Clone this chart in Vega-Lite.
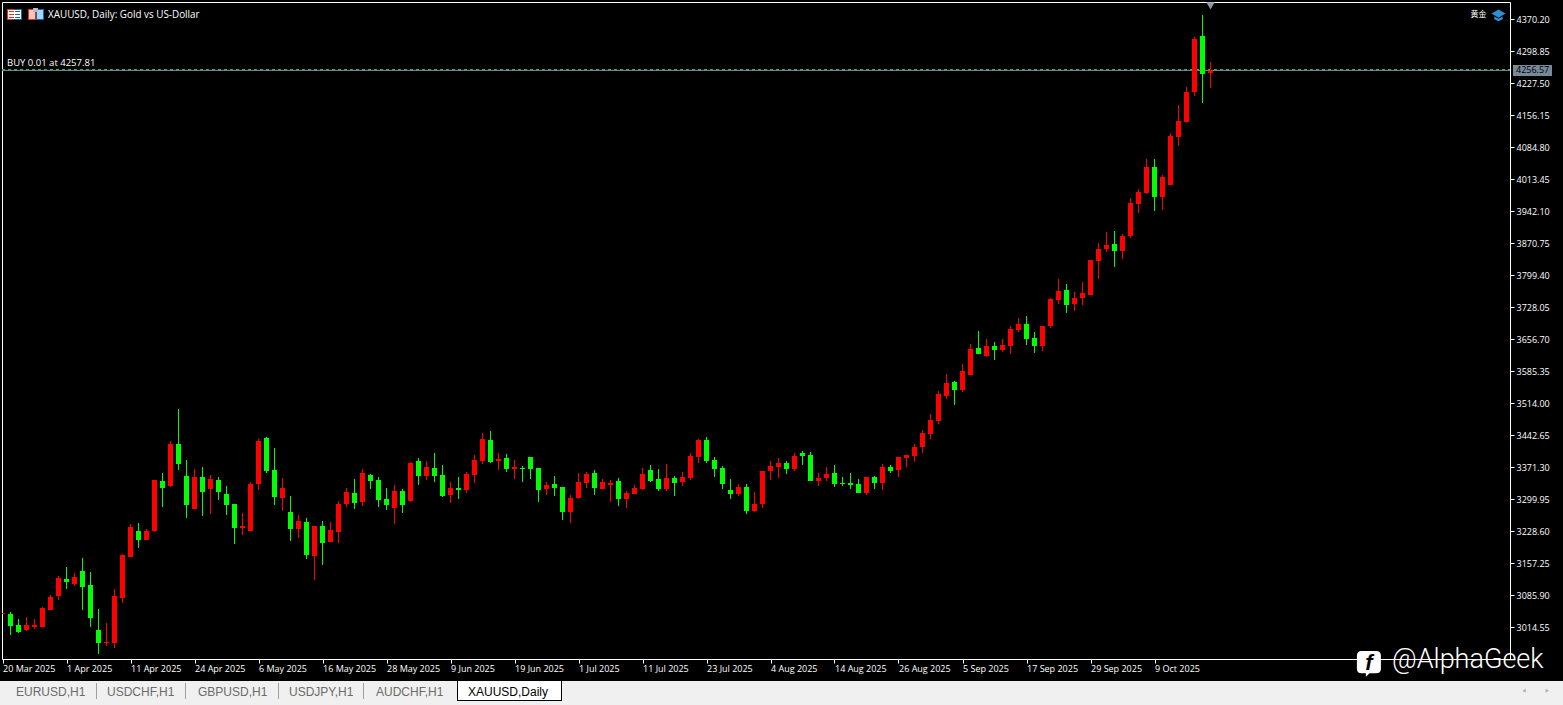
{"$schema":"https://vega.github.io/schema/vega-lite/v6.json","width":1508,"height":657,"autosize":{"type":"none"},"padding":{"left":2,"top":2,"right":53,"bottom":46},"background":"#000000","config":{"view":{"stroke":"#ffffff","strokeWidth":1,"fill":"#000000"}},
"datasets":{"candles":[
{"i":-1,"o":3044.6,"h":3046.9,"l":3044.6,"c":3046.9},
{"i":0,"o":3044.6,"h":3049.1,"l":2997.8,"c":3017.9},{"i":1,"o":3020.1,"h":3033.5,"l":3002.3,"c":3004.5},{"i":2,"o":3009.0,"h":3038.0,"l":3006.7,"c":3020.1},{"i":3,"o":3015.7,"h":3033.5,"l":3011.2,"c":3020.1},{"i":4,"o":3015.7,"h":3060.3,"l":3015.7,"c":3058.0},{"i":5,"o":3053.6,"h":3087.0,"l":3053.6,"c":3082.6},{"i":6,"o":3084.8,"h":3129.4,"l":3075.9,"c":3124.9},{"i":7,"o":3122.7,"h":3149.4,"l":3100.4,"c":3116.0},{"i":8,"o":3111.5,"h":3136.1,"l":3107.1,"c":3127.1},{"i":9,"o":3140.5,"h":3169.5,"l":3053.6,"c":3104.9},
{"i":10,"o":3109.3,"h":3138.3,"l":3015.7,"c":3035.7},{"i":11,"o":3009.0,"h":3055.8,"l":2955.5,"c":2980.0},{"i":12,"o":2980.0,"h":3024.6,"l":2973.3,"c":2982.2},{"i":13,"o":2980.0,"h":3100.4,"l":2968.8,"c":3084.8},{"i":14,"o":3080.3,"h":3178.4,"l":3069.2,"c":3176.2},{"i":15,"o":3171.7,"h":3245.3,"l":3171.7,"c":3238.6},{"i":16,"o":3229.7,"h":3247.5,"l":3191.8,"c":3209.6},{"i":17,"o":3209.6,"h":3234.2,"l":3209.6,"c":3229.7},{"i":18,"o":3229.7,"h":3343.4,"l":3227.5,"c":3343.4},{"i":19,"o":3341.2,"h":3359.0,"l":3283.2,"c":3325.6},
{"i":20,"o":3330.0,"h":3430.4,"l":3327.8,"c":3423.7},{"i":21,"o":3423.7,"h":3501.7,"l":3365.7,"c":3379.1},{"i":22,"o":3352.3,"h":3388.0,"l":3258.7,"c":3287.7},{"i":23,"o":3278.8,"h":3368.0,"l":3278.8,"c":3350.1},{"i":24,"o":3350.1,"h":3372.4,"l":3263.2,"c":3316.7},{"i":25,"o":3323.4,"h":3354.6,"l":3267.6,"c":3345.7},{"i":26,"o":3343.4,"h":3350.1,"l":3298.8,"c":3316.7},{"i":27,"o":3312.2,"h":3330.0,"l":3265.4,"c":3287.7},{"i":28,"o":3289.9,"h":3289.9,"l":3200.7,"c":3236.4},{"i":29,"o":3236.4,"h":3269.8,"l":3220.8,"c":3240.9},
{"i":30,"o":3229.7,"h":3339.0,"l":3229.7,"c":3334.5},{"i":31,"o":3334.5,"h":3434.8,"l":3321.1,"c":3430.4},{"i":32,"o":3437.1,"h":3439.3,"l":3359.0,"c":3363.5},{"i":33,"o":3365.7,"h":3414.8,"l":3287.7,"c":3305.5},{"i":34,"o":3303.3,"h":3347.9,"l":3274.3,"c":3325.6},{"i":35,"o":3272.1,"h":3307.7,"l":3207.4,"c":3234.2},{"i":36,"o":3234.2,"h":3265.4,"l":3214.1,"c":3252.0},{"i":37,"o":3249.8,"h":3258.7,"l":3167.3,"c":3176.2},{"i":38,"o":3174.0,"h":3240.9,"l":3120.5,"c":3240.9},{"i":39,"o":3240.9,"h":3252.0,"l":3153.9,"c":3203.0},
{"i":40,"o":3205.2,"h":3249.8,"l":3205.2,"c":3231.9},{"i":41,"o":3227.5,"h":3296.6,"l":3202.9,"c":3289.9},{"i":42,"o":3289.9,"h":3325.6,"l":3283.2,"c":3316.7},{"i":43,"o":3314.4,"h":3345.6,"l":3278.8,"c":3292.1},{"i":44,"o":3294.4,"h":3367.9,"l":3285.4,"c":3359.0},{"i":45,"o":3354.6,"h":3356.8,"l":3323.4,"c":3341.2},{"i":46,"o":3343.4,"h":3350.1,"l":3283.2,"c":3298.8},{"i":47,"o":3301.1,"h":3325.6,"l":3276.5,"c":3287.7},{"i":48,"o":3281.0,"h":3332.3,"l":3245.3,"c":3318.9},{"i":49,"o":3318.9,"h":3323.4,"l":3269.8,"c":3287.7},
{"i":50,"o":3296.6,"h":3383.6,"l":3294.4,"c":3381.3},{"i":51,"o":3385.8,"h":3392.5,"l":3332.3,"c":3352.3},{"i":52,"o":3352.3,"h":3385.8,"l":3343.4,"c":3372.4},{"i":53,"o":3370.2,"h":3403.6,"l":3339.0,"c":3352.3},{"i":54,"o":3354.6,"h":3376.9,"l":3305.5,"c":3307.7},{"i":55,"o":3310.0,"h":3339.0,"l":3292.1,"c":3325.6},{"i":56,"o":3325.6,"h":3350.1,"l":3301.1,"c":3321.1},{"i":57,"o":3321.1,"h":3361.3,"l":3314.4,"c":3356.8},{"i":58,"o":3354.6,"h":3399.2,"l":3336.7,"c":3388.0},{"i":59,"o":3385.8,"h":3448.2,"l":3379.1,"c":3434.8},
{"i":60,"o":3432.6,"h":3452.7,"l":3381.3,"c":3383.6},{"i":61,"o":3385.8,"h":3403.6,"l":3365.7,"c":3390.2},{"i":62,"o":3392.5,"h":3401.4,"l":3361.3,"c":3367.9},{"i":63,"o":3367.9,"h":3388.0,"l":3345.6,"c":3372.4},{"i":64,"o":3370.2,"h":3374.6,"l":3339.0,"c":3367.9},{"i":65,"o":3394.7,"h":3394.7,"l":3345.6,"c":3367.9},{"i":66,"o":3370.2,"h":3370.2,"l":3294.4,"c":3321.1},{"i":67,"o":3323.4,"h":3339.0,"l":3310.0,"c":3332.3},{"i":68,"o":3334.5,"h":3352.3,"l":3307.7,"c":3325.6},{"i":69,"o":3327.8,"h":3327.8,"l":3254.2,"c":3272.1},
{"i":70,"o":3272.1,"h":3310.0,"l":3247.5,"c":3303.3},{"i":71,"o":3303.3,"h":3359.0,"l":3301.1,"c":3339.0},{"i":72,"o":3336.7,"h":3361.3,"l":3325.6,"c":3356.8},{"i":73,"o":3359.0,"h":3365.7,"l":3310.0,"c":3325.6},{"i":74,"o":3323.4,"h":3345.6,"l":3323.4,"c":3339.0},{"i":75,"o":3332.3,"h":3343.4,"l":3294.4,"c":3336.7},{"i":76,"o":3341.2,"h":3347.9,"l":3285.4,"c":3301.1},{"i":77,"o":3301.1,"h":3318.9,"l":3281.0,"c":3314.4},{"i":78,"o":3312.2,"h":3332.3,"l":3312.2,"c":3325.6},{"i":79,"o":3323.4,"h":3370.2,"l":3321.1,"c":3356.8},
{"i":80,"o":3365.7,"h":3376.9,"l":3339.0,"c":3341.2},{"i":81,"o":3345.6,"h":3367.9,"l":3318.9,"c":3323.4},{"i":82,"o":3323.4,"h":3379.1,"l":3318.9,"c":3347.9},{"i":83,"o":3347.9,"h":3352.3,"l":3307.7,"c":3336.7},{"i":84,"o":3339.0,"h":3361.3,"l":3330.0,"c":3350.1},{"i":85,"o":3347.9,"h":3403.6,"l":3343.4,"c":3396.9},{"i":86,"o":3394.7,"h":3434.8,"l":3381.3,"c":3432.6},{"i":87,"o":3432.6,"h":3439.3,"l":3381.3,"c":3385.8},{"i":88,"o":3388.0,"h":3394.7,"l":3350.1,"c":3367.9},{"i":89,"o":3370.2,"h":3374.6,"l":3323.4,"c":3334.5},
{"i":90,"o":3321.1,"h":3345.6,"l":3301.1,"c":3312.2},{"i":91,"o":3312.2,"h":3334.5,"l":3307.7,"c":3327.8},{"i":92,"o":3327.8,"h":3334.5,"l":3267.6,"c":3274.3},{"i":93,"o":3274.3,"h":3316.7,"l":3272.1,"c":3289.9},{"i":94,"o":3289.9,"h":3363.5,"l":3281.0,"c":3363.5},{"i":95,"o":3363.5,"h":3385.8,"l":3343.4,"c":3374.6},{"i":96,"o":3372.4,"h":3392.5,"l":3347.9,"c":3381.3},{"i":97,"o":3381.3,"h":3385.8,"l":3356.8,"c":3367.9},{"i":98,"o":3367.9,"h":3403.6,"l":3363.5,"c":3396.9},{"i":99,"o":3403.6,"h":3408.1,"l":3376.9,"c":3396.9},
{"i":100,"o":3399.2,"h":3405.8,"l":3341.2,"c":3341.2},{"i":101,"o":3341.2,"h":3359.0,"l":3330.0,"c":3347.9},{"i":102,"o":3347.9,"h":3372.4,"l":3341.2,"c":3356.8},{"i":103,"o":3359.0,"h":3376.9,"l":3327.8,"c":3334.5},{"i":104,"o":3336.7,"h":3350.1,"l":3330.0,"c":3334.5},{"i":105,"o":3336.7,"h":3359.0,"l":3323.4,"c":3332.3},{"i":106,"o":3334.5,"h":3345.6,"l":3314.4,"c":3314.4},{"i":107,"o":3314.4,"h":3350.1,"l":3310.0,"c":3350.1},{"i":108,"o":3350.1,"h":3352.3,"l":3323.4,"c":3336.7},{"i":109,"o":3336.7,"h":3379.1,"l":3321.1,"c":3372.4},
{"i":110,"o":3372.4,"h":3376.9,"l":3359.0,"c":3363.5},{"i":111,"o":3365.7,"h":3394.7,"l":3350.1,"c":3394.7},{"i":112,"o":3392.5,"h":3399.2,"l":3372.4,"c":3399.2},{"i":113,"o":3396.9,"h":3423.7,"l":3383.6,"c":3417.0},{"i":114,"o":3417.0,"h":3454.9,"l":3403.6,"c":3448.2},{"i":115,"o":3446.0,"h":3490.6,"l":3434.8,"c":3477.2},{"i":116,"o":3475.0,"h":3541.9,"l":3468.3,"c":3535.2},{"i":117,"o":3530.7,"h":3579.8,"l":3524.0,"c":3559.7},{"i":118,"o":3561.9,"h":3564.2,"l":3510.7,"c":3544.1},{"i":119,"o":3544.1,"h":3602.1,"l":3539.6,"c":3586.5},
{"i":120,"o":3577.5,"h":3646.7,"l":3577.5,"c":3635.5},{"i":121,"o":3637.8,"h":3675.7,"l":3624.4,"c":3624.4},{"i":122,"o":3619.9,"h":3657.8,"l":3617.7,"c":3642.2},{"i":123,"o":3642.2,"h":3651.1,"l":3611.0,"c":3633.3},{"i":124,"o":3633.3,"h":3657.8,"l":3628.8,"c":3644.4},{"i":125,"o":3642.2,"h":3686.8,"l":3624.4,"c":3680.1},{"i":126,"o":3677.9,"h":3704.6,"l":3673.4,"c":3691.3},{"i":127,"o":3691.3,"h":3709.1,"l":3644.4,"c":3657.8},{"i":128,"o":3660.0,"h":3673.4,"l":3626.6,"c":3642.2},{"i":129,"o":3642.2,"h":3686.8,"l":3631.1,"c":3686.8},
{"i":130,"o":3686.8,"h":3749.2,"l":3682.3,"c":3747.0},{"i":131,"o":3744.8,"h":3791.6,"l":3735.9,"c":3764.8},{"i":132,"o":3767.1,"h":3780.4,"l":3715.8,"c":3733.6},{"i":133,"o":3735.9,"h":3762.6,"l":3720.2,"c":3749.2},{"i":134,"o":3749.2,"h":3784.9,"l":3733.6,"c":3760.4},{"i":135,"o":3755.9,"h":3834.0,"l":3755.9,"c":3834.0},{"i":136,"o":3831.7,"h":3871.9,"l":3791.6,"c":3858.5},{"i":137,"o":3858.5,"h":3896.4,"l":3851.8,"c":3867.4},{"i":138,"o":3869.6,"h":3898.6,"l":3818.4,"c":3854.0},{"i":139,"o":3854.0,"h":3892.0,"l":3836.2,"c":3887.5},
{"i":140,"o":3887.5,"h":3972.2,"l":3883.0,"c":3961.1},{"i":141,"o":3958.8,"h":3992.3,"l":3938.8,"c":3985.6},{"i":142,"o":3983.4,"h":4059.2,"l":3981.1,"c":4041.3},{"i":143,"o":4041.3,"h":4059.2,"l":3943.2,"c":3974.5},{"i":144,"o":3974.5,"h":4023.5,"l":3945.5,"c":4019.0},{"i":145,"o":4001.2,"h":4117.2,"l":4001.2,"c":4110.5},{"i":146,"o":4108.2,"h":4179.6,"l":4088.2,"c":4143.9},{"i":147,"o":4141.7,"h":4219.7,"l":4139.4,"c":4208.6},{"i":148,"o":4208.6,"h":4331.2,"l":4199.6,"c":4326.7},{"i":149,"o":4333.4,"h":4380.3,"l":4184.0,"c":4248.7},{"i":150,"o":4250.9,"h":4275.5,"l":4217.5,"c":4256.57}
],
"chrome":[
{"part":"bar","i":-1.3125,"i2":194.0625,"p":2895.3,"p2":2841.7},
{"part":"edge","i":55.8125,"i2":68.9375,"p":2897.5,"p2":2850.7},
{"part":"white","i":55.9375,"i2":68.8125,"p":2895.3,"p2":2852.9},
{"part":"sep","i":10.6875,"i2":10.8125,"p":2890.8,"p2":2855.1},
{"part":"sep","i":21.8125,"i2":21.9375,"p":2890.8,"p2":2855.1},
{"part":"sep","i":33.4375,"i2":33.5625,"p":2890.8,"p2":2855.1},
{"part":"sep","i":44.0625,"i2":44.1875,"p":2890.8,"p2":2855.1},
{"part":"tag","i":187.8125,"i2":192.6875,"p":4268.8,"p2":4244.2},
{"part":"red","i":-0.4375,"i2":0.5,"p":4393.6,"p2":4369.1},
{"part":"blue","i":0.5,"i2":1.4375,"p":4393.6,"p2":4369.1},
{"part":"white","i":-0.3125,"i2":1.3125,"p":4391.4,"p2":4371.3},
{"part":"red","i":-0.1875,"i2":0.4375,"p":4389.2,"p2":4386.9},
{"part":"red","i":-0.1875,"i2":0.4375,"p":4382.5,"p2":4380.2},
{"part":"red","i":-0.1875,"i2":0.4375,"p":4375.8,"p2":4373.5},
{"part":"blue","i":0.5625,"i2":1.1875,"p":4389.2,"p2":4386.9},
{"part":"blue","i":0.5625,"i2":1.1875,"p":4382.5,"p2":4380.2},
{"part":"blue","i":0.5625,"i2":1.1875,"p":4375.8,"p2":4373.5},
{"part":"red","i":2.1875,"i2":3.1875,"p":4393.6,"p2":4369.1},
{"part":"pink","i":2.3125,"i2":3.0625,"p":4391.4,"p2":4371.3},
{"part":"blue","i":3.1875,"i2":4.1875,"p":4393.6,"p2":4369.1},
{"part":"sky","i":3.3125,"i2":4.0625,"p":4391.4,"p2":4371.3},
{"part":"grey","i":2.8125,"i2":3.4375,"p":4395.8,"p2":4386.9}
],
"lines":[{"i":-1.0625,"i2":187.4375,"p":4256.57,"line":"bid"}],
"order":[{"i":-1.0625,"i2":187.4375,"p":4257.81,"line":"buy"}],
"labels":[
{"text":"XAUUSD, Daily:  Gold vs US-Dollar","i":4.6875,"p":4380.2}
],
"buy":[{"text":"BUY 0.01 at 4257.81","i":-0.4375,"p":4273.2}],
"cjk":[{"text":"黄金","i":182.5,"p":4380.2}],
"tagtext":[{"text":"4256.57","i":188.19,"p":4256.5}],
"tabs":[
{"text":"EURUSD,H1","i":0.6875,"p":2871.4},
{"text":"USDCHF,H1","i":12.06,"p":2871.4},
{"text":"GBPUSD,H1","i":23.44,"p":2871.4},
{"text":"USDJPY,H1","i":34.81,"p":2871.4},
{"text":"AUDCHF,H1","i":45.69,"p":2871.4}
],
"active":[{"text":"XAUUSD,Daily","i":57.19,"p":2871.4}],
"mark":[{"text":"@AlphaGeek","i":172.69,"p":2942.1}],
"fb":[{"i":169.8,"p":2935.4}],
"fbf":[{"text":"f","i":169.8,"p":2935.4}],
"cap":[{"i":186.0,"p":4380.2}],
"pin":[{"i":150,"p":4400.3}],
"arrowL":[{"i":189.2,"p":2873.6}],
"arrowR":[{"i":192.1,"p":2873.6}]
},
"encoding":{
"x":{"field":"i","type":"quantitative","title":null,"scale":{"domain":[-1.0625,187.4375],"nice":false,"zero":false,"padding":0},"axis":{"values":[-1,7,15,23,31,39,47,55,63,71,79,87,95,103,111,119,127,135,143],"labelExpr":"['20 Mar 2025','1 Apr 2025','11 Apr 2025','24 Apr 2025','6 May 2025','16 May 2025','28 May 2025','9 Jun 2025','19 Jun 2025','1 Jul 2025','11 Jul 2025','23 Jul 2025','4 Aug 2025','14 Aug 2025','26 Aug 2025','5 Sep 2025','17 Sep 2025','29 Sep 2025','9 Oct 2025'][(datum.value+1)/8]","labelAlign":"left","labelBound":false,"labelFlush":false,"labelOverlap":false,"labelColor":"#ffffff","labelFont":"Open Sans","labelFontSize":9,"labelPadding":1,"tickColor":"#ffffff","tickSize":4,"domain":false,"grid":false}},
"y":{"field":"p","type":"quantitative","title":null,"scale":{"domain":[2944.3,4409.2],"nice":false,"zero":false},"axis":{"orient":"right","values":[4370.2,4298.85,4227.5,4156.15,4084.8,4013.45,3942.1,3870.75,3799.4,3728.05,3656.7,3585.35,3514,3442.65,3371.3,3299.95,3228.6,3157.25,3085.9,3014.55],"format":".2f","labelColor":"#ffffff","labelFont":"Open Sans","labelFontSize":9,"labelPadding":2,"labelOverlap":false,"labelBound":false,"tickColor":"#ffffff","tickSize":4,"domain":false,"grid":false}}
},
"layer":[
{"data":{"name":"chrome"},"mark":{"type":"rect"},"encoding":{"x2":{"field":"i2"},"y2":{"field":"p2"},"color":{"field":"part","type":"nominal","legend":null,"scale":{"domain":["bar","edge","white","sep","tag","blue","red","pink","sky","grey"],"range":["#f0f0f0","#000000","#ffffff","#a0a0a0","#778899","#1565b0","#e8301f","#ffc8bf","#a8d6f5","#bbbbbb"]}}}},
{"data":{"name":"lines"},"mark":{"type":"rule","color":"#778899","strokeWidth":1},"encoding":{"x2":{"field":"i2"}}},
{"data":{"name":"order"},"mark":{"type":"rule","color":"#3fb34f","strokeWidth":1,"strokeDash":[3,3],"yOffset":-0.4},"encoding":{"x2":{"field":"i2"}}},
{"data":{"name":"candles"},"mark":{"type":"rule","strokeWidth":1,"clip":true},"encoding":{"y":{"field":"l","type":"quantitative","title":null,"scale":{"domain":[2944.3,4409.2],"nice":false,"zero":false},"axis":{"orient":"right","values":[4370.2,4298.85,4227.5,4156.15,4084.8,4013.45,3942.1,3870.75,3799.4,3728.05,3656.7,3585.35,3514,3442.65,3371.3,3299.95,3228.6,3157.25,3085.9,3014.55],"format":".2f","labelColor":"#ffffff","labelFont":"Open Sans","labelFontSize":9,"labelPadding":2,"labelOverlap":false,"labelBound":false,"tickColor":"#ffffff","tickSize":4,"domain":false,"grid":false}},"y2":{"field":"h"},"color":{"condition":{"test":"datum.c>datum.o","value":"#ff0000"},"value":"#00ff00"}}},
{"data":{"name":"candles"},"mark":{"type":"bar","size":5,"clip":true},"encoding":{"y":{"field":"o","type":"quantitative","title":null,"scale":{"domain":[2944.3,4409.2],"nice":false,"zero":false},"axis":{"orient":"right","values":[4370.2,4298.85,4227.5,4156.15,4084.8,4013.45,3942.1,3870.75,3799.4,3728.05,3656.7,3585.35,3514,3442.65,3371.3,3299.95,3228.6,3157.25,3085.9,3014.55],"format":".2f","labelColor":"#ffffff","labelFont":"Open Sans","labelFontSize":9,"labelPadding":2,"labelOverlap":false,"labelBound":false,"tickColor":"#ffffff","tickSize":4,"domain":false,"grid":false}},"y2":{"field":"c"},"color":{"condition":{"test":"datum.c>datum.o","value":"#ff0000"},"value":"#00ff00"}}},
{"data":{"name":"labels"},"mark":{"type":"text","align":"left","baseline":"middle","font":"Open Sans","fontSize":9.9,"color":"#ffffff"},"encoding":{"text":{"field":"text"}}},
{"data":{"name":"buy"},"mark":{"type":"text","align":"left","baseline":"middle","font":"Open Sans","fontSize":9.5,"color":"#ffffff"},"encoding":{"text":{"field":"text"}}},
{"data":{"name":"cjk"},"mark":{"type":"text","align":"left","baseline":"middle","font":"Noto Sans CJK SC","fontSize":8,"color":"#ffffff"},"encoding":{"text":{"field":"text"}}},
{"data":{"name":"tagtext"},"mark":{"type":"text","align":"left","baseline":"middle","font":"Open Sans","fontSize":9,"color":"#000000"},"encoding":{"text":{"field":"text"}}},
{"data":{"name":"tabs"},"mark":{"type":"text","align":"left","baseline":"middle","font":"Liberation Sans","fontSize":12,"color":"#6b6b6b"},"encoding":{"text":{"field":"text"}}},
{"data":{"name":"active"},"mark":{"type":"text","align":"left","baseline":"middle","font":"Liberation Sans","fontSize":12,"color":"#000000"},"encoding":{"text":{"field":"text"}}},
{"data":{"name":"fb"},"mark":{"type":"point","filled":true,"opacity":1,"size":576,"color":"#ffffff","shape":"M-0.6,-1 L0.6,-1 Q1,-1 1,-0.6 L1,0.5 Q1,0.85 0.6,0.85 L0.05,0.85 L-0.25,1.15 L-0.25,0.85 L-0.6,0.85 Q-1,0.85 -1,0.5 L-1,-0.6 Q-1,-1 -0.6,-1 Z"}},
{"data":{"name":"fbf"},"mark":{"type":"text","align":"center","baseline":"middle","font":"Liberation Sans","fontSize":22,"fontWeight":"bold","fontStyle":"italic","color":"#000000"},"encoding":{"text":{"field":"text"}}},
{"data":{"name":"mark"},"mark":{"type":"text","align":"left","baseline":"middle","font":"Roboto","fontWeight":300,"fontSize":27,"color":"#ffffff"},"encoding":{"text":{"field":"text"}}},
{"data":{"name":"cap"},"mark":{"type":"point","filled":true,"opacity":1,"size":196,"color":"#2f8fd0","shape":"M0,-0.8 L1,-0.2 L0,0.4 L-1,-0.2 Z M-0.6,0.2 L0,0.55 L0.6,0.2 L0.6,0.6 L0,0.9 L-0.6,0.6 Z"}},
{"data":{"name":"pin"},"mark":{"type":"point","filled":true,"opacity":1,"size":70,"color":"#8a9aaa","shape":"triangle-down"}},
{"data":{"name":"arrowL"},"mark":{"type":"point","filled":true,"opacity":1,"size":16,"color":"#b0b0b0","shape":"triangle-left"}},
{"data":{"name":"arrowR"},"mark":{"type":"point","filled":true,"opacity":1,"size":16,"color":"#b0b0b0","shape":"triangle-right"}}
]}
